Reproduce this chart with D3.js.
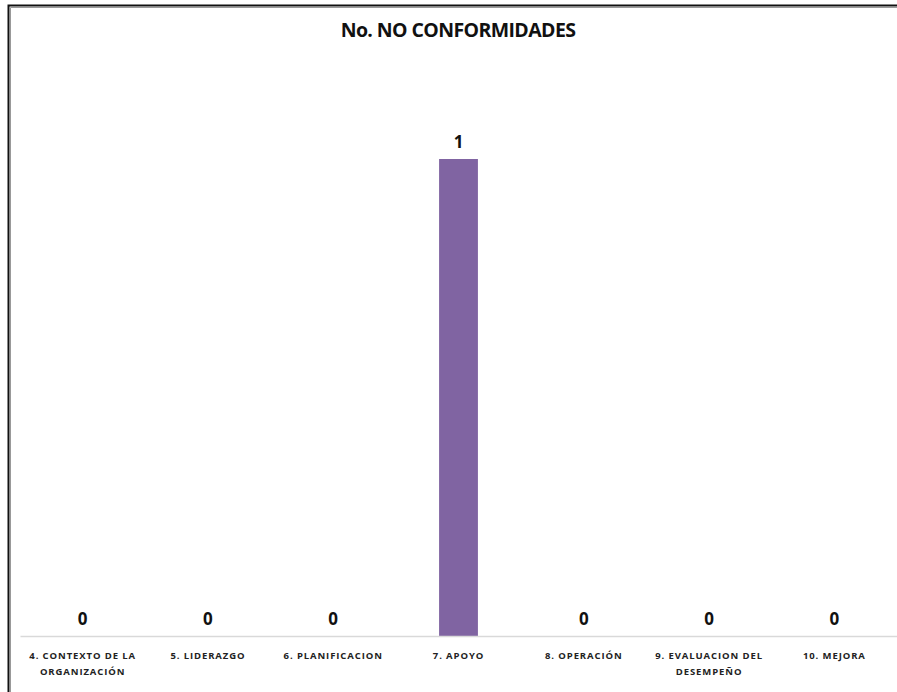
<!DOCTYPE html>
<html>
<head>
<meta charset="utf-8">
<script src="https://cdn.jsdelivr.net/npm/d3@7"></script>
<style>
  body { margin: 0; background: #fff; }
  svg { display: block; font-family: "Open Sans", sans-serif; }
</style>
</head>
<body>
<div id="canvas"></div>
<script>
const categories = [
  ["4. CONTEXTO DE LA", "ORGANIZACIÓN"],
  ["5. LIDERAZGO"],
  ["6. PLANIFICACION"],
  ["7. APOYO"],
  ["8. OPERACIÓN"],
  ["9. EVALUACION DEL", "DESEMPEÑO"],
  ["10. MEJORA"]
];
const values = [0, 0, 0, 1, 0, 0, 0];
const title = "No. NO CONFORMIDADES";

const width = 897;
const height = 692;
const margin = { top: 159, left: 20, bottom: 56, right: 0 };
const iwidth = width - margin.left - margin.right;
const iheight = height - margin.top - margin.bottom;

const svg = d3.select("#canvas").append("svg")
  .attr("width", width)
  .attr("height", height);

// chart frame (only top and left edges show)
svg.append("path")
  .attr("d", `M8.5,${height} V5.5 H${width}`)
  .attr("fill", "none")
  .attr("stroke", "#111")
  .attr("stroke-width", 2);
svg.append("path")
  .attr("d", `M10.5,${height} V7.5 H${width}`)
  .attr("fill", "none")
  .attr("stroke", "#999")
  .attr("stroke-width", 1);

svg.append("text")
  .attr("x", 458)
  .attr("y", 37)
  .attr("text-anchor", "middle")
  .attr("font-size", 19.5)
  .attr("font-weight", "bold")
  .attr("letter-spacing", -0.6)
  .attr("fill", "#111")
  .text(title);

const x = d3.scaleBand()
  .domain(categories.map((d, i) => i))
  .range([0, iwidth])
  .paddingInner(0.69)
  .paddingOuter(0.345);

const y = d3.scaleLinear()
  .domain([0, 1])
  .range([iheight, 0]);

const g = svg.append("g").attr("transform", `translate(${margin.left},${margin.top})`);

g.selectAll("rect.bar").data(values).enter().append("rect")
  .attr("class", "bar")
  .attr("fill", "#8064a2")
  .attr("x", (d, i) => x(i))
  .attr("y", d => y(d))
  .attr("width", x.bandwidth())
  .attr("height", d => iheight - y(d));

g.selectAll("text.val").data(values).enter().append("text")
  .attr("class", "val")
  .attr("x", (d, i) => x(i) + x.bandwidth() / 2)
  .attr("y", d => y(d) - 11)
  .attr("text-anchor", "middle")
  .attr("font-size", 17)
  .attr("font-weight", "bold")
  .attr("fill", "#111")
  .text(d => d);

const xAxis = g.append("g")
  .attr("transform", `translate(0,${iheight})`)
  .call(d3.axisBottom(x).tickSize(0).tickFormat(""));
xAxis.select(".domain").attr("stroke", "#d9d9d9").attr("stroke-width", 1.5);

const labels = g.selectAll("text.cat").data(categories).enter().append("text")
  .attr("class", "cat")
  .attr("text-anchor", "middle")
  .attr("font-size", 9.5)
  .attr("font-weight", "bold")
  .attr("letter-spacing", 0.9)
  .attr("fill", "#222")
  .attr("transform", (d, i) => `translate(${x(i) + x.bandwidth() / 2},${iheight + 23})`);

labels.selectAll("tspan").data(d => d).enter().append("tspan")
  .attr("x", 0)
  .attr("dy", (d, j) => j === 0 ? 0 : 16)
  .text(d => d);
</script>
</body>
</html>
